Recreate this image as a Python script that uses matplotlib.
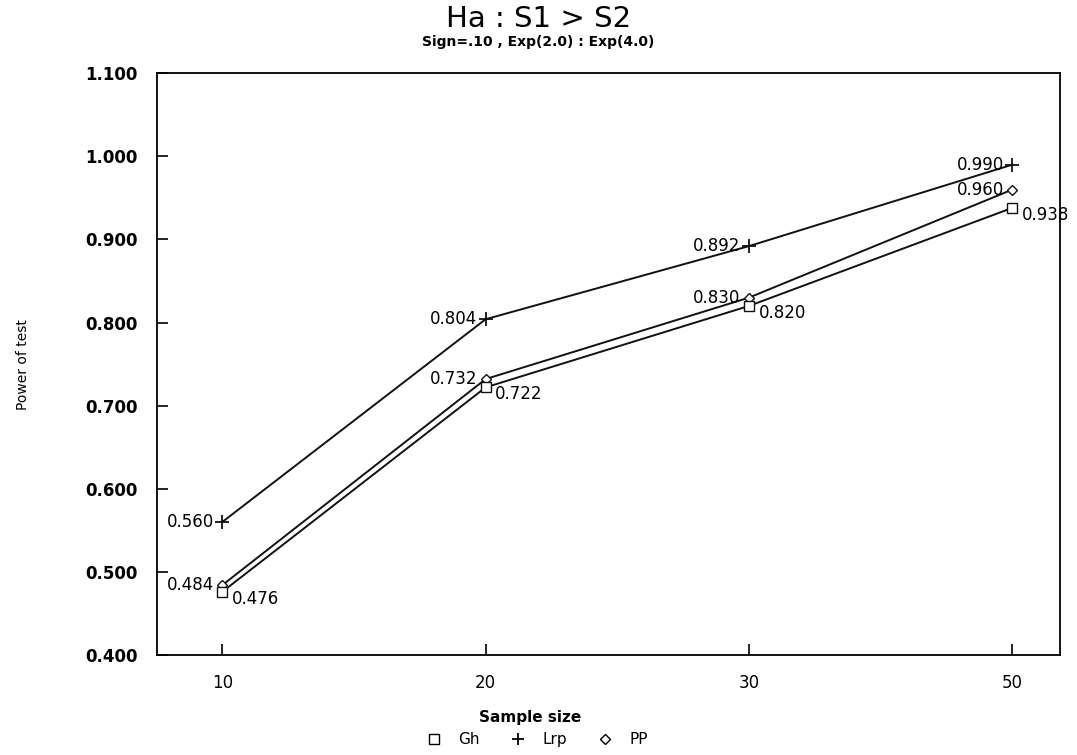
import numpy as np
import matplotlib.pyplot as plt
from matplotlib.lines import Line2D

# -----------------------
# Data
# -----------------------
sample_sizes = ["10", "20", "30", "50"]
gh = [0.476, 0.722, 0.820, 0.938]
lrp = [0.560, 0.804, 0.892, 0.990]
pp = [0.484, 0.732, 0.830, 0.960]
y_ticks = [0.4, 0.5, 0.6, 0.7, 0.8, 0.9, 1.0, 1.1]

pos = np.arange(len(sample_sizes))

fig = plt.figure(figsize=(10.77, 7.55), dpi=100)
ax = fig.add_axes([0.146, 0.1325, 0.838, 0.7705])

lw = 1.4
ax.plot(pos, lrp, color="#111111", lw=lw, marker="+", ms=10, mew=1.3)
ax.plot(pos, pp, color="#111111", lw=lw, marker="D", ms=5, mfc="white", mew=1.0)
ax.plot(pos, gh, color="#111111", lw=lw, marker="s", ms=7, mfc="white", mew=1.0)

# point labels
for i in pos:
    ax.annotate(f"{lrp[i]:.3f}", (i, lrp[i]), xytext=(-6, 0), textcoords="offset points",
                ha="right", va="center", fontsize=12)
    ax.annotate(f"{pp[i]:.3f}", (i, pp[i]), xytext=(-6, 0), textcoords="offset points",
                ha="right", va="center", fontsize=12)
    ax.annotate(f"{gh[i]:.3f}", (i, gh[i]), xytext=(7, -5), textcoords="offset points",
                ha="left", va="center", fontsize=12)

ax.set_xlim(-0.247, 3.18)
ax.set_ylim(0.4, 1.1)
ax.set_xticks(pos)
ax.set_xticklabels(sample_sizes, fontsize=12)
ax.set_yticks(y_ticks)
ax.set_yticklabels([f"{v:.3f}" for v in y_ticks], fontsize=12, fontweight="bold")
ax.tick_params(direction="in", length=8, width=1.2, pad=14)
ax.tick_params(axis="x", pad=14)
for s in ax.spines.values():
    s.set_linewidth(1.3)

ax.set_ylabel("Power of test", fontsize=10, labelpad=40)

fig.text(0.492, 0.05, "Sample size", ha="center", va="center", fontsize=11, fontweight="bold")
fig.text(0.5, 0.975, "Ha : S1 > S2", ha="center", va="center", fontsize=21)
fig.text(0.5, 0.945, "Sign=.10 , Exp(2.0) : Exp(4.0)", ha="center", va="center",
         fontsize=10, fontweight="bold")

handles = [
    Line2D([], [], ls="none", marker="s", ms=7, mfc="white", mec="black"),
    Line2D([], [], ls="none", marker="+", ms=9, mec="black", mew=1.3),
    Line2D([], [], ls="none", marker="D", ms=5, mfc="white", mec="black"),
]
fig.legend(handles, ["Gh", "Lrp", "PP"], loc="center", bbox_to_anchor=(0.495, 0.02),
           ncol=3, frameon=False, fontsize=11, handletextpad=0.6, columnspacing=1.5)

plt.savefig("out.png")
